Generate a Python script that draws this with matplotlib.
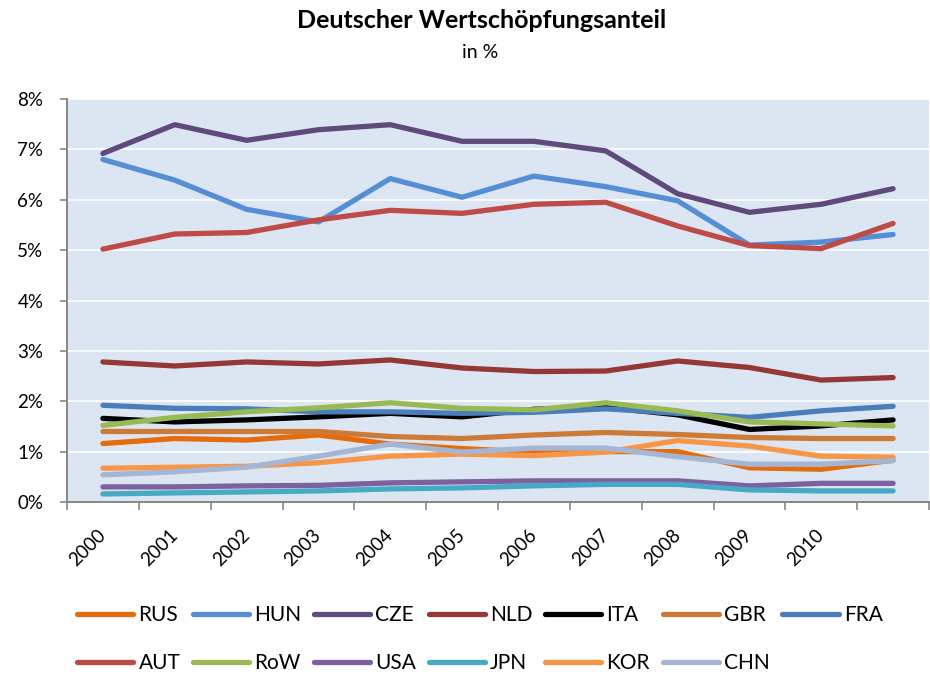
import numpy as np
from matplotlib import pyplot as plt
from matplotlib.ticker import FixedLocator, PercentFormatter

plt.rcParams['font.family'] = ['Lato', 'DejaVu Sans']

years = ['2000', '2001', '2002', '2003', '2004', '2005',
         '2006', '2007', '2008', '2009', '2010', '']

RUS = [1.16, 1.26, 1.23, 1.33, 1.15, 1.06, 0.99, 1.00, 1.00, 0.68, 0.65, 0.83]
HUN = [6.80, 6.39, 5.81, 5.56, 6.42, 6.05, 6.47, 6.26, 5.98, 5.10, 5.16, 5.31]
CZE = [6.92, 7.49, 7.18, 7.39, 7.49, 7.16, 7.16, 6.97, 6.12, 5.75, 5.91, 6.22]
NLD = [2.78, 2.70, 2.78, 2.74, 2.82, 2.66, 2.59, 2.60, 2.80, 2.67, 2.42, 2.47]
ITA = [1.66, 1.59, 1.63, 1.69, 1.76, 1.69, 1.84, 1.88, 1.73, 1.44, 1.51, 1.63]
GBR = [1.40, 1.40, 1.40, 1.40, 1.30, 1.26, 1.33, 1.38, 1.34, 1.28, 1.26, 1.26]
FRA = [1.92, 1.86, 1.85, 1.79, 1.79, 1.76, 1.78, 1.85, 1.76, 1.68, 1.81, 1.90]
AUT = [5.02, 5.32, 5.35, 5.60, 5.79, 5.73, 5.91, 5.95, 5.48, 5.09, 5.03, 5.53]
RoW = [1.52, 1.68, 1.79, 1.87, 1.97, 1.86, 1.83, 1.97, 1.81, 1.59, 1.55, 1.51]
USA = [0.30, 0.30, 0.32, 0.33, 0.38, 0.40, 0.42, 0.42, 0.42, 0.32, 0.37, 0.37]
JPN = [0.16, 0.18, 0.20, 0.22, 0.26, 0.28, 0.32, 0.35, 0.35, 0.24, 0.22, 0.22]
KOR = [0.67, 0.69, 0.71, 0.78, 0.91, 0.95, 0.92, 0.99, 1.22, 1.11, 0.91, 0.89]
CHN = [0.54, 0.60, 0.69, 0.91, 1.15, 0.99, 1.07, 1.07, 0.90, 0.75, 0.75, 0.82]

series = [
    ('RUS', RUS, '#E46C0A'),
    ('HUN', HUN, '#558ED5'),
    ('CZE', CZE, '#604A7B'),
    ('NLD', NLD, '#953735'),
    ('ITA', ITA, '#000000'),
    ('GBR', GBR, '#CD7A36'),
    ('FRA', FRA, '#4A7EBB'),
    ('AUT', AUT, '#BE4B48'),
    ('RoW', RoW, '#98B954'),
    ('USA', USA, '#7D60A0'),
    ('JPN', JPN, '#46AAC5'),
    ('KOR', KOR, '#F79646'),
    ('CHN', CHN, '#A5B6D4'),
]

fig = plt.figure(figsize=(9.3, 6.75), dpi=100)
ax = fig.add_axes([67/930, 1 - 502/675, 862/930, 403/675])
ax.set_facecolor('#DCE6F2')

x = np.arange(len(years))
lines = {}
for name, vals, color in series:
    ln, = ax.plot(x, vals, color=color, lw=3.8, solid_capstyle='round',
                  solid_joinstyle='round', label=name)
    lines[name] = ln

ax.set_xlim(-0.5, len(years) - 0.5)
ax.set_ylim(0, 8)

ax.yaxis.set_major_locator(FixedLocator(range(0, 9)))
ax.yaxis.set_major_formatter(PercentFormatter(decimals=0))
ax.grid(axis='y', color='white', lw=1.2)
ax.set_axisbelow(True)

ax.xaxis.set_major_locator(FixedLocator(np.arange(len(years) + 1) - 0.5))
ax.xaxis.set_minor_locator(FixedLocator(x))
ax.set_xticklabels([], minor=False)
ax.set_xticklabels(years, minor=True, rotation=45, ha='right', va='center',
                   rotation_mode='anchor', fontsize=13.5)
ax.tick_params(axis='x', which='minor', length=0, pad=22)
ax.tick_params(axis='x', which='major', length=6, color='#868686', width=1.2)
ax.tick_params(axis='y', length=5, color='#868686', width=1.2, labelsize=13.5, pad=12)

for side in ['top', 'right']:
    ax.spines[side].set_visible(False)
for side in ['left', 'bottom']:
    ax.spines[side].set_color('#868686')
    ax.spines[side].set_linewidth(1.4)

fig.text(482/930, 1 - 28/675, 'Deutscher Wertschöpfungsanteil',
         ha='center', va='baseline', fontsize=18, fontweight='bold')
fig.text(480/930, 1 - 58/675, 'in %', ha='center', va='baseline', fontsize=14)

# excel fills the legend row by row, matplotlib column by column
order = ['RUS', 'AUT', 'HUN', 'RoW', 'CZE', 'USA', 'NLD', 'JPN',
         'ITA', 'KOR', 'GBR', 'CHN', 'FRA']
fig.legend([lines[n] for n in order], order, ncol=7, frameon=False,
           loc='upper left', bbox_to_anchor=(77/930, 1 - 605/675),
           borderpad=0, borderaxespad=0, fontsize=15, handlelength=2.7,
           handletextpad=0.25, columnspacing=0.6, labelspacing=1.35)

fig.savefig('out.png', dpi=100)
